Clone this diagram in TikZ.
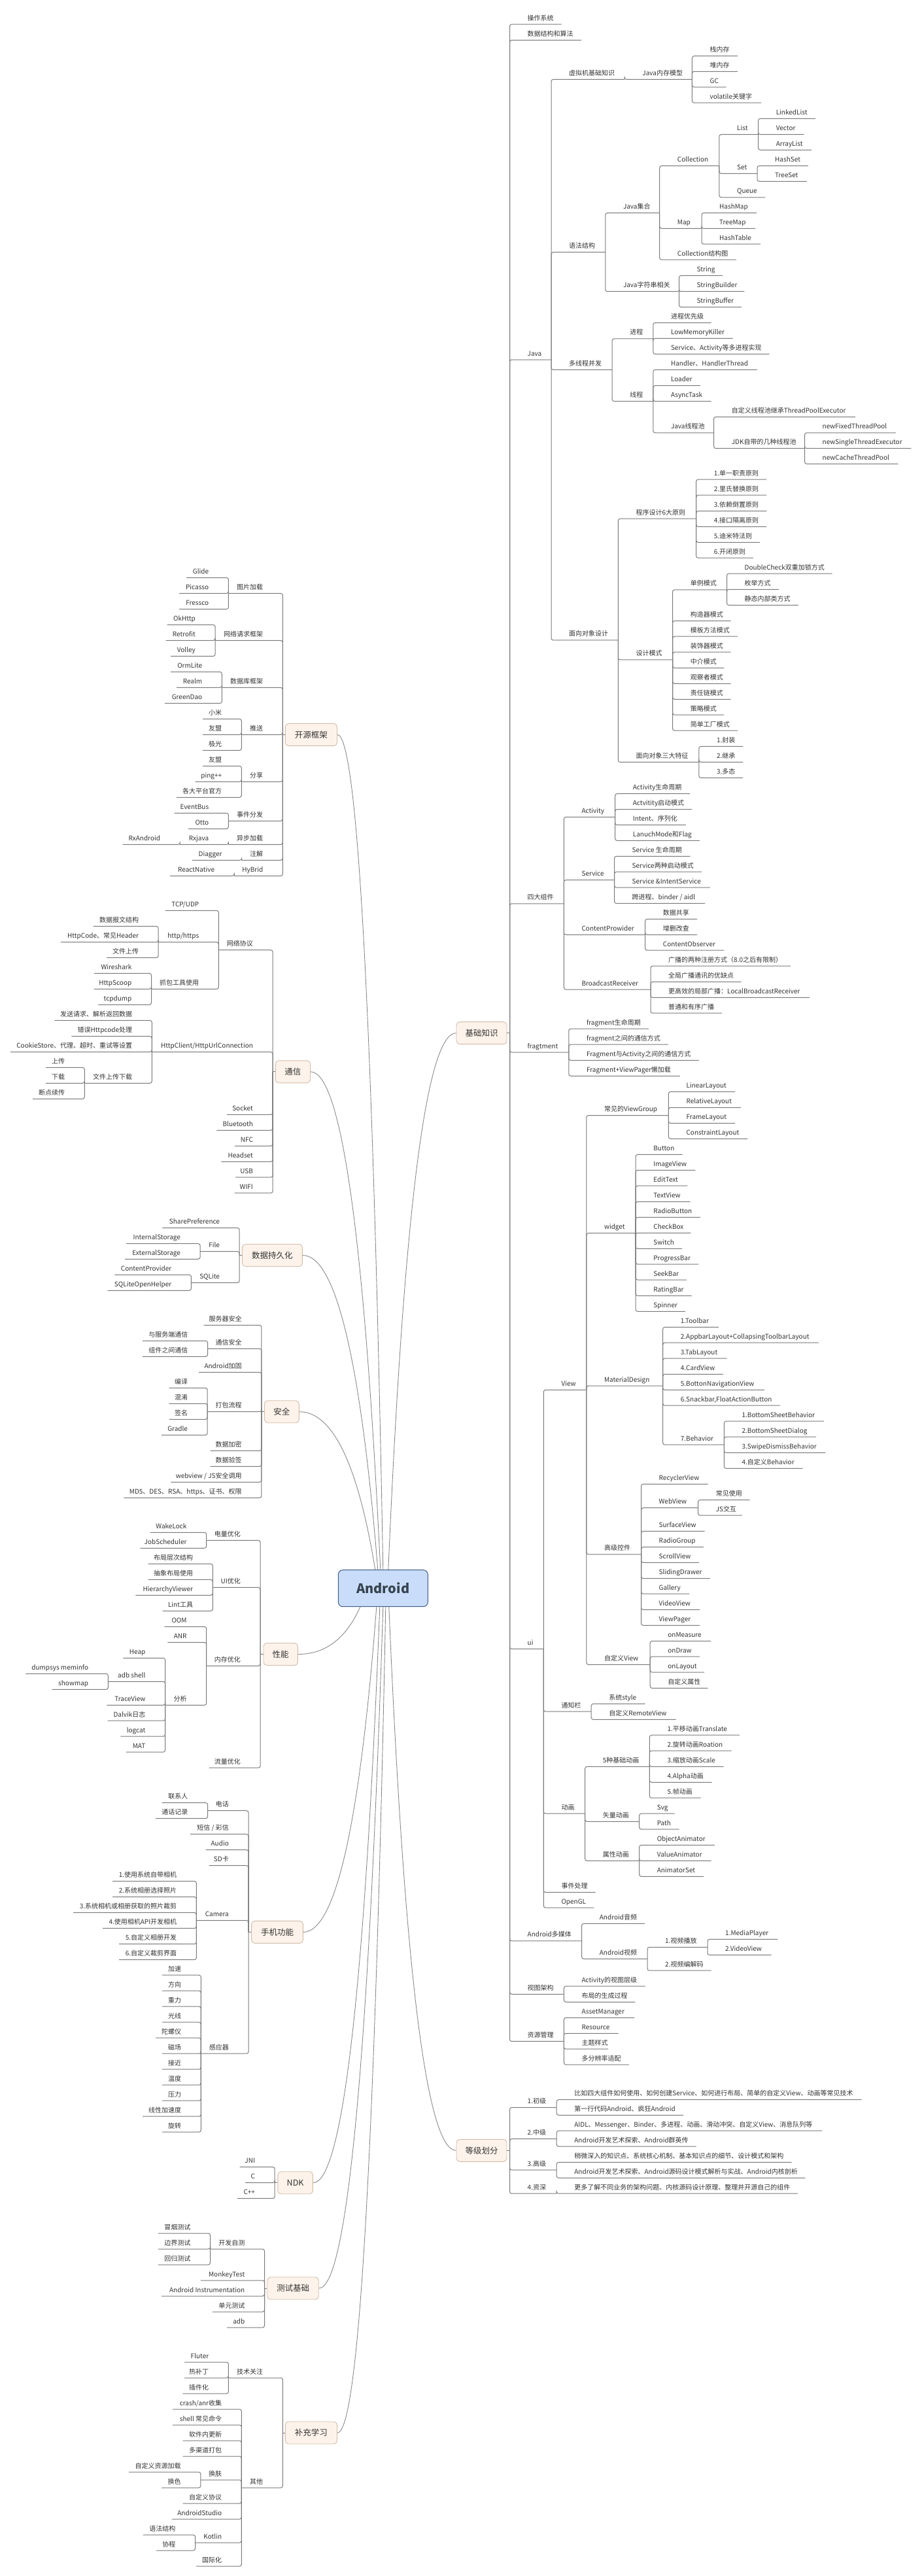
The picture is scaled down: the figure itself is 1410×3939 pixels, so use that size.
\documentclass[tikz,border=0pt]{standalone}
\usepackage{fontspec}
\setmainfont{Noto Sans CJK SC}
\usetikzlibrary{calc}
\definecolor{lnc}{HTML}{7A7A7A}
\definecolor{cvc}{HTML}{8A8A8A}
\definecolor{tc}{HTML}{333333}
\definecolor{lfill}{HTML}{FDF3EA}
\definecolor{ldraw}{HTML}{D2BCA8}
\definecolor{rfill}{HTML}{C9DDFB}
\definecolor{rdraw}{HTML}{3E5C86}
\definecolor{rtext}{HTML}{37444F}
% right-side branch: id, parent, y, end x, text
\newcommand\Rbr[5]{\coordinate (#1) at (#4,#3);\node[txt,anchor=base west,xshift=27pt,yshift=6pt] (#1t) at (#2|-#1) {#5};\draw[brl] (#2) |- (#1);}
% left-side branch: id, parent, y, left end x, text
\newcommand\Lbr[5]{\coordinate (#1) at (#4,#3);\node[txt,anchor=base east,xshift=-30pt,yshift=6pt] (#1t) at (#2|-#1) {#5};\draw[brl] (#2) |- (#1);}
% curve from root: id, target anchor, xshift on root, root anchor
\newcommand\Crv[4]{\coordinate (#1s) at ([xshift=#3pt]droid.#4);\coordinate (#1d) at ($(#2)!0.66!(#1s)$);\coordinate (#1c) at (#1d |- #2);\draw[crvst] (#2) .. controls ($(#2)!0.6667!(#1c)$) and ($(#1s)!0.6667!(#1c)$) .. (#1s);}
\begin{document}
\begin{tikzpicture}[x=1pt,y=-1pt,
  txt/.style={font=\fontsize{10}{12}\selectfont,text=tc,inner sep=0pt},
  brl/.style={draw=lnc,line width=1pt,rounded corners=3pt},
  crvst/.style={draw=cvc,line width=0.9pt},
  lone/.style={draw=ldraw,fill=lfill,rounded corners=5pt,minimum height=34pt,inner sep=0pt,line width=0.9pt,font=\fontsize{12.5}{14}\selectfont,text=tc},
  rootst/.style={draw=rdraw,fill=rfill,rounded corners=7pt,minimum width=137pt,minimum height=56pt,inner sep=0pt,line width=1pt,font=\fontsize{20}{22}\selectfont\bfseries,text=rtext}]
\useasboundingbox (0,0) rectangle (1410,3939);
\fill[white] (0,0) rectangle (1410,3939);

% ---------------- root and first level boxes
\node[rootst] (droid) at (585.8,2428.7) {Android};
\node[lone,minimum width=77pt] (jc) at (736.5,1579.6) {基础知识};
\node[lone,minimum width=77pt] (dj) at (736.5,3288.3) {等级划分};
\node[lone,minimum width=79.2pt] (kf) at (475.9,1123.4) {开源框架};
\node[lone,minimum width=53.2pt] (tx) at (447.9,1638.8) {通信};
\node[lone,minimum width=92pt] (sj) at (416.4,1919.5) {数据持久化};
\node[lone,minimum width=52.8pt] (aq) at (430.9,2158.7) {安全};
\node[lone,minimum width=52.4pt] (xn) at (429.2,2529.5) {性能};
\node[lone,minimum width=78.8pt] (gn) at (424,2954.4) {手机功能};
\node[lone,minimum width=53.6pt] (ndk) at (451.6,3337.7) {NDK};
\node[lone,minimum width=78.5pt] (cs) at (448,3499) {测试基础};
\node[lone,minimum width=79.2pt] (bc) at (475.9,3720) {补充学习};

\Crv{ckf}{kf.east}{0}{north}
\Crv{ctx}{tx.east}{-4}{north}
\Crv{csj}{sj.east}{-8}{north}
\Crv{caq}{aq.east}{-12}{north}
\Crv{cjc}{jc.west}{8}{north}
\Crv{cxn}{xn.east}{-35}{south}
\Crv{cgn}{gn.east}{-10}{south}
\Crv{cndk}{ndk.east}{-5}{south}
\Crv{ccs}{cs.east}{0}{south}
\Crv{cbc}{bc.east}{4}{south}
\Crv{cdj}{dj.west}{9}{south}

% ---------------- 基础知识
\coordinate (jco) at (779.5,1579.6); \draw[brl] (jc.east) -- (jco);
\Rbr{ros}{jco}{37.1}{858.7}{操作系统}
\Rbr{rds}{jco}{61.4}{889}{数据结构和算法}
\Rbr{java}{jco}{550}{843}{Java}
\Rbr{vm}{java}{121.4}{955.2}{虚拟机基础知识}
\Rbr{jmm}{vm}{121.4}{1058.4}{Java内存模型}
\Rbr{r1}{jmm}{85.7}{1128}{栈内存}
\Rbr{r2}{jmm}{109.3}{1128}{堆内存}
\Rbr{r3}{jmm}{133.2}{1110.7}{GC}
\Rbr{r4}{jmm}{157.1}{1164}{volatile关键字}
\Rbr{gram}{java}{385.7}{925.8}{语法结构}
\Rbr{jset}{gram}{325.7}{1008.7}{Java集合}
\Rbr{coll}{jset}{253.6}{1099.9}{Collection}
\Rbr{list}{coll}{205.7}{1159.6}{List}
\Rbr{r5}{list}{181.4}{1247}{LinkedList}
\Rbr{r6}{list}{205.7}{1229.6}{Vector}
\Rbr{r7}{list}{229.3}{1240.8}{ArrayList}
\Rbr{set}{coll}{265.3}{1158}{Set}
\Rbr{r8}{set}{253.6}{1235.8}{HashSet}
\Rbr{r9}{set}{277.5}{1233.8}{TreeSet}
\Rbr{r10}{coll}{301.8}{1170.4}{Queue}
\Rbr{map}{jset}{349.3}{1073}{Map}
\Rbr{r11}{map}{325.7}{1157}{HashMap}
\Rbr{r12}{map}{349.3}{1155}{TreeMap}
\Rbr{r13}{map}{373.2}{1163}{HashTable}
\Rbr{r14}{jset}{397.1}{1126}{Collection结构图}
\Rbr{jstr}{gram}{445.7}{1038.5}{Java字符串相关}
\Rbr{r15}{jstr}{421.4}{1104.9}{String}
\Rbr{r16}{jstr}{445.7}{1138.4}{StringBuilder}
\Rbr{r17}{jstr}{469.6}{1133.9}{StringBuffer}
\Rbr{mt}{java}{565.4}{936.2}{多线程并发}
\Rbr{proc}{mt}{517.9}{998.8}{进程}
\Rbr{r18}{proc}{493.5}{1087.5}{进程优先级}
\Rbr{r19}{proc}{517.4}{1120.6}{LowMemoryKiller}
\Rbr{r20}{proc}{541.4}{1176.6}{Service、Activity等多进程实现}
\Rbr{thr}{mt}{613.6}{998.8}{线程}
\Rbr{r21}{thr}{565.4}{1157.9}{Handler、HandlerThread}
\Rbr{r22}{thr}{589.6}{1070.9}{Loader}
\Rbr{r23}{thr}{613.6}{1087.5}{AsyncTask}
\Rbr{jtp}{thr}{661.8}{1091.6}{Java线程池}
\Rbr{r24}{jtp}{637.5}{1308}{自定义线程池继承ThreadPoolExecutor}
\Rbr{jdk}{jtp}{685.7}{1230.5}{JDK自带的几种线程池}
\Rbr{r25}{jdk}{661.8}{1370}{newFixedThreadPool}
\Rbr{r26}{jdk}{685.7}{1393.4}{newSingleThreadExecutor}
\Rbr{r27}{jdk}{709.3}{1373.5}{newCacheThreadPool}
\Rbr{oo}{java}{978.9}{945.3}{面向对象设计}
\Rbr{p6}{oo}{793.2}{1064.7}{程序设计6大原则}
\Rbr{r28}{p6}{733.2}{1172.4}{1.单一职责原则}
\Rbr{r29}{p6}{757.1}{1172.4}{2.里氏替换原则}
\Rbr{r30}{p6}{781.4}{1172.4}{3.依赖倒置原则}
\Rbr{r31}{p6}{805.4}{1172.4}{4.接口隔离原则}
\Rbr{r32}{p6}{829.3}{1162}{5.迪米特法则}
\Rbr{r33}{p6}{853.2}{1152}{6.开闭原则}
\Rbr{dp}{oo}{1008.9}{1028.6}{设计模式}
\Rbr{sgl}{dp}{901.8}{1111.5}{单例模式}
\Rbr{r34}{sgl}{877.1}{1272.7}{DoubleCheck双重加锁方式}
\Rbr{r35}{sgl}{901.4}{1191}{枚举方式}
\Rbr{r36}{sgl}{925.3}{1221}{静态内部类方式}
\Rbr{k1}{dp}{949.3}{1117.7}{构造器模式}
\Rbr{k2}{dp}{973.2}{1128}{模板方法模式}
\Rbr{k3}{dp}{997.1}{1117.7}{装饰器模式}
\Rbr{k4}{dp}{1021.4}{1107.4}{中介模式}
\Rbr{k5}{dp}{1045.3}{1117.7}{观察者模式}
\Rbr{k6}{dp}{1069.3}{1117.7}{责任链模式}
\Rbr{k7}{dp}{1093.2}{1107.4}{策略模式}
\Rbr{k8}{dp}{1117.1}{1128}{简单工厂模式}
\Rbr{oo3}{oo}{1165.4}{1068.8}{面向对象三大特征}
\Rbr{r37}{oo3}{1141.4}{1136.4}{1.封装}
\Rbr{r38}{oo3}{1165.4}{1136.4}{2.继承}
\Rbr{r39}{oo3}{1189.3}{1136.4}{3.多态}
\Rbr{four}{jco}{1381.8}{862.4}{四大组件}
\Rbr{act}{four}{1249.3}{940.7}{Activity}
\Rbr{r40}{act}{1213.6}{1055}{Activity生命周期}
\Rbr{r41}{act}{1237.5}{1058.4}{Actvitity启动模式}
\Rbr{r42}{act}{1261.4}{1048.9}{Intent、序列化}
\Rbr{r43}{act}{1285.3}{1070}{LanuchMode和Flag}
\Rbr{svc}{four}{1345.7}{939.5}{Service}
\Rbr{r44}{svc}{1309.3}{1055.5}{Service 生命周期}
\Rbr{r45}{svc}{1333.2}{1073}{Service两种启动模式}
\Rbr{r46}{svc}{1357.1}{1085.8}{Service \&IntentService}
\Rbr{r47}{svc}{1381.4}{1078}{跨进程、binder / aidl}
\Rbr{cp}{four}{1429.3}{986.7}{ContentProwider}
\Rbr{r48}{cp}{1405.3}{1066}{数据共享}
\Rbr{r49}{cp}{1429.3}{1066}{增删改查}
\Rbr{r50}{cp}{1453.2}{1107.4}{ContentObserver}
\Rbr{bcr}{four}{1513.2}{995}{BroadcastReceiver}
\Rbr{r51}{bcr}{1477.1}{1209}{广播的两种注册方式（8.0之后有限制）}
\Rbr{r52}{bcr}{1501.4}{1133.5}{全局广播通讯的优缺点}
\Rbr{r53}{bcr}{1525.3}{1238}{更高效的局部广播：LocalBroadcastReceiver}
\Rbr{r54}{bcr}{1549.2}{1104}{普通和有序广播}
\Rbr{frag}{jco}{1609.2}{869.8}{fragtment}
\Rbr{r55}{frag}{1573.2}{992}{fragment生命周期}
\Rbr{r56}{frag}{1597.1}{1022}{fragment之间的通信方式}
\Rbr{r57}{frag}{1621.4}{1068.8}{Fragment与Activity之间的通信方式}
\Rbr{r58}{frag}{1645.3}{1039.8}{Fragment+ViewPager懒加载}
\Rbr{ui}{jco}{2521.4}{831.3}{ui}
\Rbr{view}{ui}{2125.3}{896.8}{View}
\Rbr{vg}{view}{1705.7}{1022.4}{常见的ViewGroup}
\Rbr{r60}{vg}{1669.3}{1124}{LinearLayout}
\Rbr{r61}{vg}{1693.6}{1133}{RelativeLayout}
\Rbr{r62}{vg}{1717.5}{1124}{FrameLayout}
\Rbr{r63}{vg}{1741.4}{1143.4}{ConstraintLayout}
\Rbr{wid}{view}{1885.7}{972.2}{widget}
\Rbr{r64}{wid}{1765.3}{1043.5}{Button}
\Rbr{r65}{wid}{1789.3}{1063.4}{ImageView}
\Rbr{r66}{wid}{1813.2}{1051.4}{EditText}
\Rbr{r67}{wid}{1837.5}{1055.5}{TextView}
\Rbr{r68}{wid}{1861.4}{1070.9}{RadioButton}
\Rbr{r69}{wid}{1885.3}{1056.4}{CheckBox}
\Rbr{r70}{wid}{1909.3}{1043}{Switch}
\Rbr{r71}{wid}{1933.2}{1068.4}{ProgressBar}
\Rbr{r72}{wid}{1957.1}{1050.2}{SeekBar}
\Rbr{r73}{wid}{1981.4}{1057.6}{RatingBar}
\Rbr{r74}{wid}{2005.3}{1048}{Spinner}
\Rbr{md}{view}{2119.2}{1013.7}{MaterialDesign}
\Rbr{r75}{md}{2029.3}{1099}{1.Toolbar}
\Rbr{r76}{md}{2053.2}{1252}{2.AppbarLayout+CollapsingToolbarLayout}
\Rbr{r77}{md}{2077.1}{1111.5}{3.TabLayout}
\Rbr{r78}{md}{2101.4}{1106}{4.CardView}
\Rbr{r79}{md}{2125.3}{1169}{5.BottonNavigationView}
\Rbr{r80}{md}{2149.2}{1193}{6.Snackbar,FloatActionButton}
\Rbr{beh}{md}{2209.2}{1107.4}{7.Behavior}
\Rbr{r81}{beh}{2173.2}{1260}{1.BottomSheetBehavior}
\Rbr{r82}{beh}{2197.1}{1248}{2.BottomSheetDialog}
\Rbr{r83}{beh}{2221.4}{1262.4}{3.SwipeDismissBehavior}
\Rbr{r84}{beh}{2245.4}{1227.6}{4.自定义Behavior}
\Rbr{adv}{view}{2376.8}{980.5}{高级控件}
\Rbr{r85}{adv}{2269.3}{1082.5}{RecyclerView}
\Rbr{web}{adv}{2305.7}{1067.6}{WebView}
\Rbr{r86}{web}{2293.6}{1146.7}{常见使用}
\Rbr{r87}{web}{2317.1}{1135}{JS交互}
\Rbr{r88}{adv}{2341.4}{1077.5}{SurfaceView}
\Rbr{r89}{adv}{2365.7}{1075.8}{RadioGroup}
\Rbr{r90}{adv}{2389.3}{1068.8}{ScrollView}
\Rbr{r91}{adv}{2413.6}{1085.8}{SlidingDrawer}
\Rbr{r92}{adv}{2437.1}{1054.3}{Gallery}
\Rbr{r93}{adv}{2461.4}{1070}{VideoView}
\Rbr{r94}{adv}{2485.3}{1070}{ViewPager}
\Rbr{cview}{view}{2545.3}{994.2}{自定义View}
\Rbr{r95}{cview}{2509.3}{1087}{onMeasure}
\Rbr{r96}{cview}{2533.2}{1070}{onDraw}
\Rbr{r97}{cview}{2557.1}{1077}{onLayout}
\Rbr{r98}{cview}{2581.4}{1082.5}{自定义属性}
\Rbr{noti}{ui}{2617.1}{904.2}{通知栏}
\Rbr{r99}{noti}{2605.3}{986.7}{系统style}
\Rbr{r100}{noti}{2629.3}{1033.6}{自定义RemoteView}
\Rbr{anim}{ui}{2773.2}{894.7}{动画}
\Rbr{an5}{anim}{2701.4}{993.4}{5种基础动画}
\Rbr{r101}{an5}{2653.2}{1131}{1.平移动画Translate}
\Rbr{r102}{an5}{2677.1}{1118.5}{2.旋转动画Roation}
\Rbr{r103}{an5}{2701.4}{1106.5}{3.缩放动画Scale}
\Rbr{r104}{an5}{2725.3}{1088.7}{4.Alpha动画}
\Rbr{r105}{an5}{2749.2}{1071.7}{5.帧动画}
\Rbr{anv}{anim}{2785.3}{977.6}{矢量动画}
\Rbr{r106}{anv}{2773.2}{1031.5}{Svg}
\Rbr{r107}{anv}{2797.1}{1038.5}{Path}
\Rbr{anp}{anim}{2845.4}{977.6}{属性动画}
\Rbr{r108}{anp}{2821.4}{1092.8}{ObjectAnimator}
\Rbr{r109}{anp}{2845.4}{1087.5}{ValueAnimator}
\Rbr{r110}{anp}{2869.3}{1075.8}{AnimatorSet}
\Rbr{r111}{ui}{2893.6}{910.5}{事件处理}
\Rbr{r112}{ui}{2917.1}{908.4}{OpenGL}
\Rbr{mm}{jco}{2967.9}{889.7}{Android多媒体}
\Rbr{aud}{mm}{2941.4}{985.9}{Android音频}
\Rbr{vid}{mm}{2995.3}{990}{Android视频}
\Rbr{vp}{vid}{2977.5}{1082}{1.视频播放}
\Rbr{r119}{vp}{2965.3}{1189.4}{1.MediaPlayer}
\Rbr{r120}{vp}{2989.3}{1179.5}{2.VideoView}
\Rbr{r121}{vid}{3013.2}{1087.5}{2.视频编解码}
\Rbr{va}{jco}{3049.3}{862.4}{视图架构}
\Rbr{r113}{va}{3037.1}{987}{Activity的视图层级}
\Rbr{r114}{va}{3061.4}{971.4}{布局的生成过程}
\Rbr{res}{jco}{3121.4}{862.4}{资源管理}
\Rbr{r115}{res}{3085.3}{970}{AssetManager}
\Rbr{r116}{res}{3109.3}{945.7}{Resource}
\Rbr{r117}{res}{3133.2}{930}{主题样式}
\Rbr{r118}{res}{3157.1}{961.9}{多分辨率适配}

% ---------------- 等级划分
\coordinate (djo) at (779.5,3288.3); \draw[brl] (dj.east) -- (djo);
\Rbr{lv1}{djo}{3222.5}{851.2}{1.初级}
\Rbr{lv1a}{lv1}{3210.7}{1317.5}{比如四大组件如何使用、如何创建Service、如何进行布局、简单的自定义View、动画等常见技术}
\Rbr{lv1b}{lv1}{3234.3}{1045.2}{第一行代码Android、疯狂Android}
\Rbr{lv2}{djo}{3270.7}{851.2}{2.中级}
\Rbr{lv2a}{lv2}{3258.2}{1257.4}{AIDL、Messenger、Binder、多进程、动画、滑动冲突、自定义View、消息队列等}
\Rbr{lv2b}{lv2}{3282.1}{1064.7}{Android开发艺术探索、Android群英传}
\Rbr{lv3}{djo}{3318.2}{851.2}{3.高级}
\Rbr{lv3a}{lv3}{3306.4}{1210.6}{稍微深入的知识点、系统核心机制、基本知识点的细节、设计模式和架构}
\Rbr{lv3b}{lv3}{3330.3}{1231.7}{Android开发艺术探索、Android源码设计模式解析与实战、Android内核剖析}
\Rbr{lv4}{djo}{3354.2}{851.2}{4.资深}
\Rbr{lv4a}{lv4}{3354.2}{1220}{更多了解不同业务的架构问题、内核源码设计原理、整理并开源自己的组件}

% ---------------- 开源框架
\coordinate (kfo) at (432.4,1123.4); \draw[brl] (kf.west) -- (kfo);
\Lbr{img}{kfo}{907.4}{349.4}{图片加载}
\Lbr{l1}{img}{883.4}{285.1}{Glide}
\Lbr{l2}{img}{907.4}{274}{Picasso}
\Lbr{l3}{img}{931.4}{274}{Fressco}
\Lbr{net}{kfo}{979.4}{329.1}{网络请求框架}
\Lbr{l4}{net}{955.4}{255.6}{OkHttp}
\Lbr{l5}{net}{979.4}{253.7}{Retrofit}
\Lbr{l6}{net}{1003.4}{261}{Volley}
\Lbr{dbf}{kfo}{1051.4}{339.4}{数据库框架}
\Lbr{l7}{dbf}{1027.4}{261}{OrmLite}
\Lbr{l8}{dbf}{1051.4}{270.2}{Realm}
\Lbr{l9}{dbf}{1075.4}{252.2}{GreenDao}
\Lbr{push}{kfo}{1123.4}{369.3}{推送}
\Lbr{l10}{push}{1099.4}{310}{小米}
\Lbr{l11}{push}{1123.4}{310}{友盟}
\Lbr{l12}{push}{1147.4}{310}{极光}
\Lbr{share}{kfo}{1195.3}{369.3}{分享}
\Lbr{l13}{share}{1171.3}{310}{友盟}
\Lbr{l14}{share}{1195.3}{298.5}{ping++}
\Lbr{l15}{share}{1219.3}{270.2}{各大平台官方}
\Lbr{evb}{kfo}{1255.3}{349.4}{事件分发}
\Lbr{l16}{evb}{1243.3}{266.7}{EventBus}
\Lbr{l17}{evb}{1267.3}{288.2}{Otto}
\Lbr{async}{kfo}{1291.3}{349.4}{异步加载}
\Lbr{rxj}{async}{1291.3}{275.2}{Rxjava}
\Lbr{l18}{rxj}{1291.3}{187.9}{RxAndroid}
\Lbr{anno}{kfo}{1315.3}{369.7}{注解}
\Lbr{l19}{anno}{1315.3}{293.9}{Diagger}
\Lbr{hyb}{kfo}{1339.3}{358.3}{HyBrid}
\Lbr{l20}{hyb}{1339.3}{260.2}{ReactNative}

% ---------------- 通信
\coordinate (txo) at (417.1,1638.8); \draw[brl] (tx.west) -- (txo);
\Lbr{proto}{txo}{1452.7}{334.4}{网络协议}
\Lbr{l21}{proto}{1392.4}{252.6}{TCP/UDP}
\Lbr{http}{proto}{1440.7}{242.2}{http/https}
\Lbr{l22}{http}{1416.4}{142.7}{数据报文结构}
\Lbr{l23}{http}{1440.7}{93}{HttpCode、常见Header}
\Lbr{l24}{http}{1464.3}{163}{文件上传}
\Lbr{cap}{proto}{1512.3}{231.5}{抓包工具使用}
\Lbr{l25}{cap}{1488.3}{143.9}{Wireshark}
\Lbr{l26}{cap}{1512.3}{143.9}{HttpScoop}
\Lbr{l27}{cap}{1536.3}{150.4}{tcpdump}
\Lbr{hc}{txo}{1608.7}{232.3}{HttpClient/HttpUrlConnection}
\Lbr{l28}{hc}{1560.3}{83.4}{发送请求、解析返回数据}
\Lbr{l29}{hc}{1584.7}{109.4}{错误Httpcode处理}
\Lbr{l30}{hc}{1608.7}{16.1}{CookieStore、代理、超时、重试等设置}
\Lbr{updown}{hc}{1656.3}{129.3}{文件上传下载}
\Lbr{l31}{updown}{1632.3}{70}{上传}
\Lbr{l32}{updown}{1656.3}{70}{下载}
\Lbr{l33}{updown}{1680.3}{50.1}{断点续传}
\Lbr{l34}{txo}{1704.3}{347.1}{Socket}
\Lbr{l35}{txo}{1728.3}{331.4}{Bluetooth}
\Lbr{l36}{txo}{1752.3}{359}{NFC}
\Lbr{l37}{txo}{1776.3}{338.3}{Headset}
\Lbr{l38}{txo}{1800.2}{360}{USB}
\Lbr{l39}{txo}{1824.2}{358.6}{WIFI}

% ---------------- 数据持久化
\coordinate (sjo) at (366.2,1919.5); \draw[brl] (sj.west) -- (sjo);
\Lbr{l40}{sjo}{1877.7}{248.4}{SharePreference}
\Lbr{file}{sjo}{1913.6}{306.1}{File}
\Lbr{l41}{file}{1901.7}{192.9}{InternalStorage}
\Lbr{l42}{file}{1925.3}{191}{ExternalStorage}
\Lbr{sql}{sjo}{1961.3}{292.4}{SQLite}
\Lbr{l43}{sql}{1949.3}{175.3}{ContentProvider}
\Lbr{l44}{sql}{1973.3}{164.6}{SQLiteOpenHelper}

% ---------------- 安全
\coordinate (aqo) at (399.9,2158.7); \draw[brl] (aq.west) -- (aqo);
\Lbr{l45}{aqo}{2026.4}{311.5}{服务器安全}
\Lbr{csec}{aqo}{2062.3}{317.6}{通信安全}
\Lbr{l46}{csec}{2050.3}{218.1}{与服务端通信}
\Lbr{l47}{csec}{2074.3}{218.1}{组件之间通信}
\Lbr{l48}{aqo}{2098.3}{304.2}{Android加固}
\Lbr{pack}{aqo}{2158.7}{317.2}{打包流程}
\Lbr{l49}{pack}{2122.3}{258.7}{编译}
\Lbr{l50}{pack}{2146.3}{258.7}{混淆}
\Lbr{l51}{pack}{2170.3}{258.7}{签名}
\Lbr{l52}{pack}{2194.3}{246.8}{Gradle}
\Lbr{l53}{aqo}{2218.3}{321.5}{数据加密}
\Lbr{l54}{aqo}{2242.3}{321.5}{数据验签}
\Lbr{l55}{aqo}{2266.3}{261.4}{webview / JS安全调用}
\Lbr{l56}{aqo}{2290.3}{189.4}{MD5、DES、RSA、https、证书、权限}

% ---------------- 性能
\coordinate (xno) at (398,2529.5); \draw[brl] (xn.west) -- (xno);
\Lbr{pwr}{xno}{2355.3}{315.7}{电量优化}
\Lbr{l57}{pwr}{2343.3}{229.6}{WakeLock}
\Lbr{l58}{pwr}{2367.3}{214.3}{JobScheduler}
\Lbr{uiopt}{xno}{2427.3}{325.3}{UI优化}
\Lbr{l59}{uiopt}{2391.3}{226.5}{布局层次结构}
\Lbr{l60}{uiopt}{2415.3}{226.5}{抽象布局使用}
\Lbr{l61}{uiopt}{2439.3}{207.4}{HierarchyViewer}
\Lbr{l62}{uiopt}{2463.3}{248.7}{Lint工具}
\Lbr{memo}{xno}{2547.3}{315.7}{内存优化}
\Lbr{l63}{memo}{2487.3}{251.4}{OOM}
\Lbr{l64}{memo}{2511.3}{256.4}{ANR}
\Lbr{ana}{memo}{2607.3}{252.6}{分析}
\Lbr{l65}{ana}{2535.3}{188.3}{Heap}
\Lbr{adbs}{ana}{2571.3}{165.3}{adb shell}
\Lbr{l66}{adbs}{2559.3}{39.4}{dumpsys meminfo}
\Lbr{l67}{adbs}{2583.3}{79.6}{showmap}
\Lbr{l68}{ana}{2607.3}{163.4}{TraceView}
\Lbr{l69}{ana}{2631.2}{164.5}{Dalvik日志}
\Lbr{l70}{ana}{2655.2}{184.4}{logcat}
\Lbr{l71}{ana}{2679.2}{192.5}{MAT}
\Lbr{l72}{xno}{2703.2}{319.5}{流量优化}

% ---------------- 手机功能
\coordinate (gno) at (380,2954.4); \draw[brl] (gn.west) -- (gno);
\Lbr{phone}{gno}{2768.7}{317.6}{电话}
\Lbr{l73}{phone}{2756.7}{248}{联系人}
\Lbr{l74}{phone}{2780.7}{238}{通话记录}
\Lbr{l75}{gno}{2804.6}{290.8}{短信 / 彩信}
\Lbr{l76}{gno}{2828.6}{314.6}{Audio}
\Lbr{l77}{gno}{2852.6}{319.5}{SD卡}
\Lbr{cam}{gno}{2936.6}{300.4}{Camera}
\Lbr{l78}{cam}{2876.6}{172.2}{1.使用系统自带相机}
\Lbr{l79}{cam}{2900.6}{172.2}{2.系统相册选择照片}
\Lbr{l80}{cam}{2924.6}{112.1}{3.系统相机或相册获取的照片裁剪}
\Lbr{l81}{cam}{2948.6}{156.9}{4.使用相机API开发相机}
\Lbr{l82}{cam}{2972.6}{182.2}{5.自定义相册开发}
\Lbr{l83}{cam}{2996.6}{182.2}{6.自定义裁剪界面}
\Lbr{sens}{gno}{3140.2}{307.3}{感应器}
\Lbr{l84}{sens}{3020.2}{248}{加速}
\Lbr{l85}{sens}{3044.2}{248}{方向}
\Lbr{l86}{sens}{3068.2}{248}{重力}
\Lbr{l87}{sens}{3092.2}{248}{光线}
\Lbr{l88}{sens}{3116.2}{238}{陀螺仪}
\Lbr{l89}{sens}{3140.2}{248}{磁场}
\Lbr{l90}{sens}{3164.2}{248}{接近}
\Lbr{l91}{sens}{3188.2}{248}{温度}
\Lbr{l92}{sens}{3212.2}{248}{压力}
\Lbr{l93}{sens}{3236.2}{218.1}{线性加速度}
\Lbr{l94}{sens}{3260.2}{248}{旋转}

% ---------------- NDK
\coordinate (ndko) at (420.2,3337.7); \draw[brl] (ndk.west) -- (ndko);
\Lbr{l95}{ndko}{3313.7}{366.6}{JNI}
\Lbr{l96}{ndko}{3337.7}{375}{C}
\Lbr{l97}{ndko}{3361.7}{362.8}{C++}

% ---------------- 测试基础
\coordinate (cso) at (404.5,3499); \draw[brl] (cs.west) -- (cso);
\Lbr{dev}{cso}{3439}{321.5}{开发自测}
\Lbr{l98}{dev}{3415}{241.9}{冒烟测试}
\Lbr{l99}{dev}{3439}{241.9}{边界测试}
\Lbr{l100}{dev}{3463}{241.9}{回归测试}
\Lbr{l101}{cso}{3487}{306.9}{MonkeyTest}
\Lbr{l102}{cso}{3511}{246.8}{Android Instrumentation}
\Lbr{l103}{cso}{3535}{324.9}{单元测试}
\Lbr{l104}{cso}{3559}{347.1}{adb}

% ---------------- 补充学习
\coordinate (bco) at (432.4,3720); \draw[brl] (bc.west) -- (bco);
\Lbr{tech}{bco}{3636}{349.4}{技术关注}
\Lbr{l105}{tech}{3612}{282}{Fluter}
\Lbr{l106}{tech}{3636}{282}{热补丁}
\Lbr{l107}{tech}{3660}{279.4}{插件化}
\Lbr{oth}{bco}{3804}{369.3}{其他}
\Lbr{l108}{oth}{3684}{264}{crash/anr收集}
\Lbr{l109}{oth}{3708}{264}{shell 常见命令}
\Lbr{l110}{oth}{3732}{279.7}{软件内更新}
\Lbr{l111}{oth}{3756}{279.7}{多渠道打包}
\Lbr{skin}{oth}{3792}{306.9}{换肤}
\Lbr{l112}{skin}{3780}{197.1}{自定义资源加载}
\Lbr{l113}{skin}{3804}{246.8}{换色}
\Lbr{l114}{oth}{3828}{279.7}{自定义协议}
\Lbr{l115}{oth}{3852}{262.9}{AndroidStudio}
\Lbr{kt}{oth}{3888}{298.5}{Kotlin}
\Lbr{l116}{kt}{3876}{218.9}{语法结构}
\Lbr{l117}{kt}{3900}{239.2}{协程}
\Lbr{l118}{oth}{3924}{300}{国际化}
\end{tikzpicture}
\end{document}
